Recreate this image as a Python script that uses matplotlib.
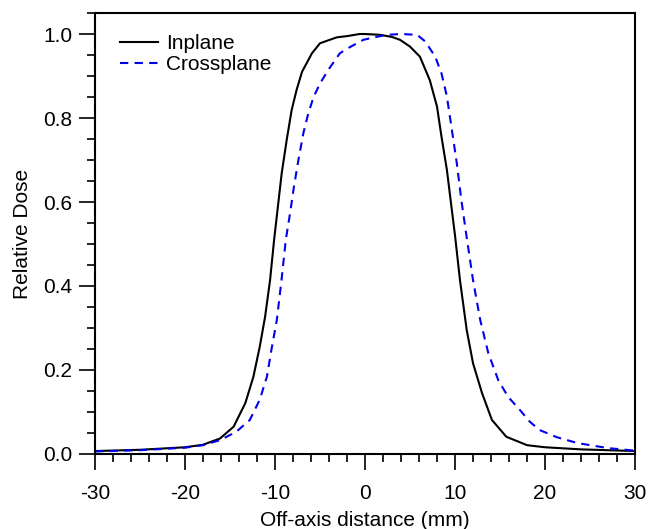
import matplotlib.pyplot as plt
from matplotlib.ticker import MultipleLocator

plt.rcParams['font.family'] = ['Liberation Sans', 'DejaVu Sans']
plt.rcParams['axes.unicode_minus'] = False

# Inplane profile (mm, relative dose)
inplane_x = [-30, -25, -20, -18, -16.1, -14.6, -13.3, -12.4, -11.7, -11.1, -10.55,
             -10.1, -9.26, -8.7, -8.15, -7.6, -7.0, -5.9, -5.0, -3.15, -2,
             -0.6, 0, 1.7, 3, 3.9, 5, 6.1, 7.2, 8.0, 8.5, 9.1, 9.6, 10.0, 10.55,
             11.3, 12.0, 13.0, 14.1, 15.7, 18.0, 20, 24, 27, 30]
inplane_y = [0.007, 0.010, 0.016, 0.022, 0.037, 0.065, 0.121, 0.184, 0.255, 0.327,
             0.414, 0.510, 0.668, 0.748, 0.819, 0.867, 0.910, 0.954, 0.978,
             0.992, 0.995, 1.0, 1.0, 0.998, 0.993, 0.986, 0.97, 0.946, 0.890,
             0.827, 0.755, 0.676, 0.589, 0.520, 0.414, 0.295, 0.216, 0.145, 0.081,
             0.041, 0.021, 0.016, 0.011, 0.009, 0.007]

# Crossplane profile
cross_x = [-30, -25, -20, -18, -16.1, -14.3, -12.8, -11.7, -10.9, -10.4, -9.8,
           -9.3, -8.8, -8.33, -7.9, -7.4, -6.85, -6.3, -5.7, -5.0, -4.1, -2.8,
           -2, -0.2, 1, 2.4, 4, 5.8, 6.7, 7.8, 8.5, 9.1, 9.6, 10.2, 10.7, 11.2,
           12.0, 12.8, 13.7, 14.8, 15.9, 17.2, 18.3, 19.4, 21.3, 23.6, 27, 30]
cross_y = [0.006, 0.009, 0.015, 0.021, 0.033, 0.053, 0.081, 0.129, 0.184, 0.248,
           0.319, 0.410, 0.510, 0.573, 0.636, 0.700, 0.764, 0.811, 0.851, 0.882,
           0.914, 0.954, 0.965, 0.986, 0.992, 0.998, 1.0, 0.998, 0.982, 0.946,
           0.906, 0.851, 0.779, 0.692, 0.605, 0.530, 0.414, 0.319, 0.240,
           0.176, 0.136, 0.105, 0.077, 0.057, 0.040, 0.026, 0.014, 0.008]

fig = plt.figure(figsize=(6.48, 5.29), dpi=100)
ax = fig.add_axes([0.1466, 0.1418, 0.8334, 0.8336])

ax.plot(inplane_x, inplane_y, color='black', lw=1.5, label='Inplane')
ax.plot(cross_x, cross_y, color='#0000ee', lw=1.5, dashes=(4, 3), label='Crossplane')

ax.set_xlim(-30, 30)
ax.set_ylim(0, 1.05)
ax.xaxis.set_major_locator(MultipleLocator(10))
ax.xaxis.set_minor_locator(MultipleLocator(2))
ax.yaxis.set_major_locator(MultipleLocator(0.2))
ax.yaxis.set_minor_locator(MultipleLocator(0.05))
ax.yaxis.set_major_formatter(plt.FormatStrFormatter('%.1f'))
ax.tick_params(which='major', direction='out', length=11.5, width=1.2, labelsize=15,
               pad=5, top=False, right=False)
ax.tick_params(axis='x', which='major', pad=10)
ax.tick_params(which='minor', direction='out', length=6, width=1.2,
               top=False, right=False)
for s in ax.spines.values():
    s.set_linewidth(1.5)

ax.set_xlabel('Off-axis distance (mm)', fontsize=15, labelpad=6)
ax.set_ylabel('Relative Dose', fontsize=15, labelpad=8)

ax.legend(loc='upper left', frameon=False, fontsize=15, handlelength=1.8,
          handletextpad=0.4, labelspacing=0.1, borderaxespad=0,
          bbox_to_anchor=(0.031, 0.971))

fig.savefig('out.png', dpi=100)
